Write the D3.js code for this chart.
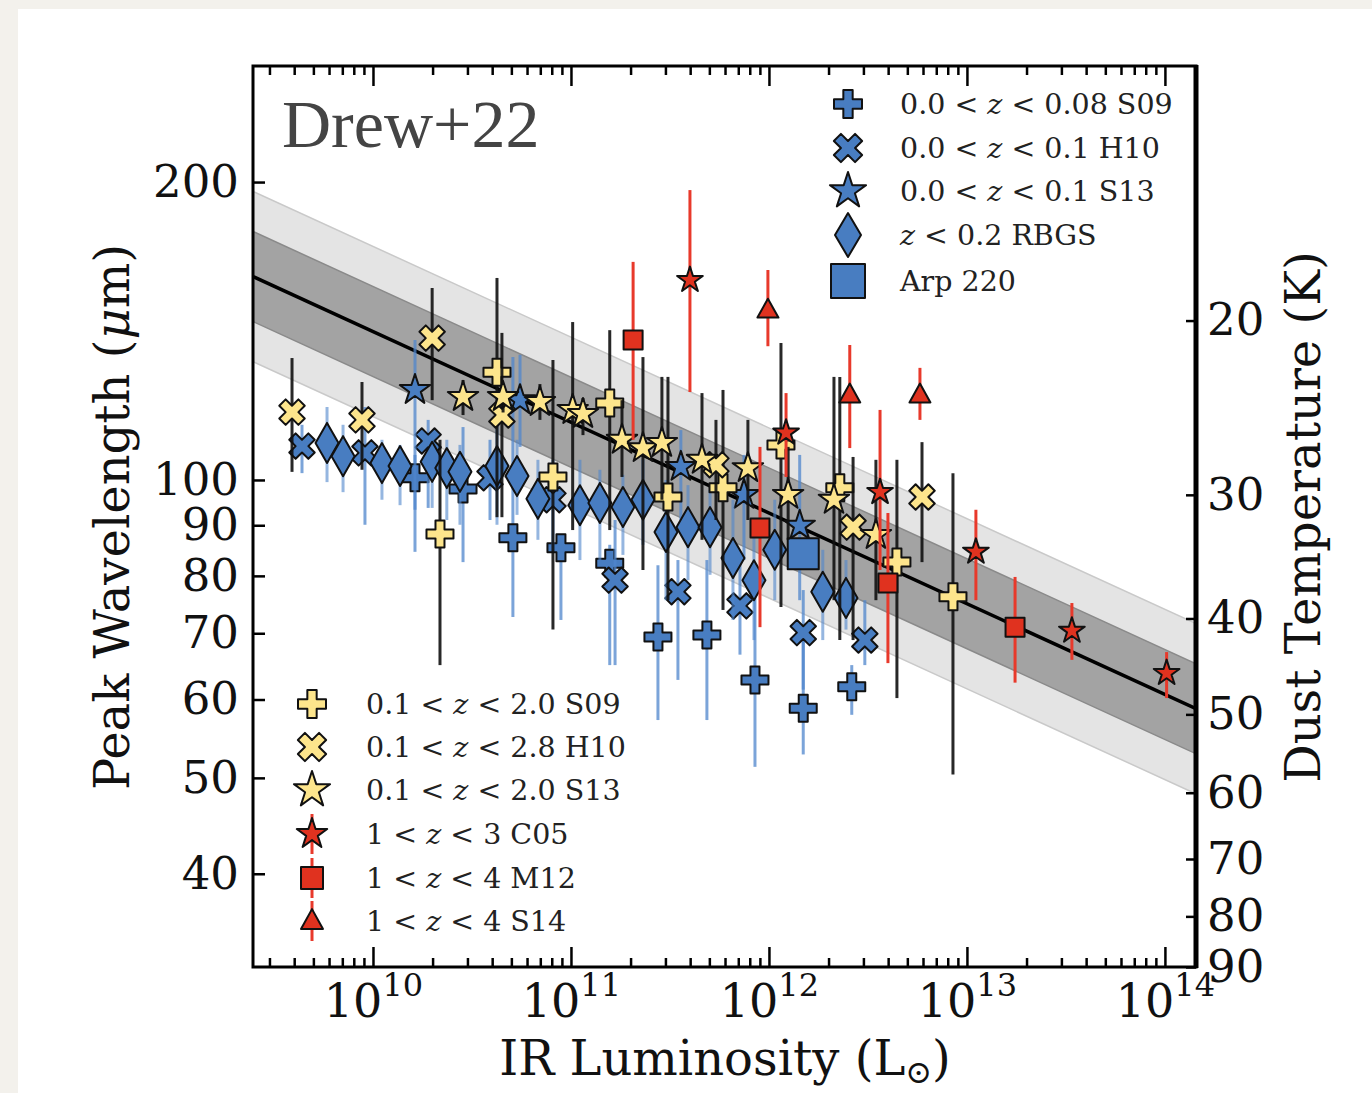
<!DOCTYPE html>
<html><head><meta charset="utf-8">
<script src="https://cdn.jsdelivr.net/npm/d3@7"></script>
<style>html,body{margin:0;padding:0;background:#f3f1ec;} svg{display:block}</style>
</head><body>
<svg id="chart" width="1372" height="1093"></svg>
<script>
// ---------------- DATA ----------------
// each point: [L_IR (Lsun), peak wavelength (um), lower bound (um), upper bound (um)]
const blueS09 = [
 [1.63e10,100.5,93.3,106.0],[2.85e10,97.9,82.6,113.1],[5.09e10,87.4,72.7,133.1],
 [8.90e10,85.4,72.2,87.6],[1.57e11,82.4,65.0,86.0],[2.75e11,69.4,57.2,82.0],
 [4.86e11,69.7,57.2,83.0],[8.50e11,62.8,51.3,78.3],[1.49e12,58.8,52.8,70.6],
 [2.62e12,61.8,57.9,65.0]
];
const blueH10 = [
 [4.38e9,108.2,101.6,113.7],[9.11e9,106.5,90.1,118.5],[1.90e10,109.5,93.7,115.0],
 [3.90e10,100.5,91.1,109.8],[8.11e10,95.5,86.0,104.8],[1.67e11,79.2,65.0,91.1],
 [3.47e11,77.1,62.8,83.0],[7.14e11,74.6,66.6,84.0],[1.49e12,70.1,61.4,77.4],
 [3.05e12,68.9,65.0,75.6]
];
const blueS13 = [
 [1.63e10,123.3,84.6,138.5],[5.53e10,120.4,108.0,133.8],[3.59e11,103.1,91.1,112.3],
 [7.48e11,96.6,83.0,106.0],[1.43e12,89.9,75.6,106.0]
];
const blueRBGS = [
 [5.86e9,109.0,99.5,118.5],[7.06e9,105.7,97.2,113.7],[1.11e10,104.0,95.5,109.8],
 [1.37e10,103.3,94.3,108.5],[1.99e10,104.3,93.7,108.5],[2.36e10,102.8,91.1,109.8],
 [2.75e10,101.9,90.1,108.5],[4.23e10,103.3,90.1,115.0],[5.34e10,100.9,92.2,109.8],
 [6.81e10,95.7,87.0,104.8],[1.11e11,94.3,83.0,104.8],[1.40e11,94.8,83.0,102.4],
 [1.83e11,93.9,84.0,101.2],[2.31e11,95.5,86.0,104.8],[3.02e11,88.6,75.6,100.0],
 [3.90e11,89.6,79.2,98.8],[5.04e11,89.6,80.2,97.7],[6.58e11,83.4,72.2,95.5],
 [8.40e11,79.2,68.9,91.1],[1.07e12,85.0,75.6,95.5],[1.87e12,77.1,68.9,85.0],
 [2.45e12,76.0,70.6,83.0]
];
const arp220 = [[1.49e12,84.2,84.2,84.2]];
const yellowS09 = [
 [2.18e10,88.2,65.0,109.8],[4.23e10,128.5,91.7,160.0],[8.11e10,100.7,70.6,132.2],
 [1.57e11,119.6,89.0,141.7],[3.09e11,96.1,75.6,127.1],[5.86e11,98.2,73.9,123.3],
 [1.15e12,108.5,74.4,137.5],[2.28e12,98.2,68.9,127.1],[4.43e12,82.6,60.2,104.8],
 [8.50e12,76.2,50.4,101.6]
];
const yellowH10 = [
 [3.90e9,117.1,101.9,132.8],[8.80e9,115.0,102.4,125.6],[1.99e10,139.1,120.4,156.3],
 [4.48e10,116.3,91.7,140.8],[5.40e11,103.6,91.1,115.0],[2.66e12,89.6,68.9,105.5],
 [5.93e12,96.1,82.6,109.2]
];
const yellowS13 = [
 [2.85e10,121.3,116.3,126.2],[4.54e10,121.3,117.0,124.0],[6.97e10,119.9,115.0,125.0],
 [1.02e11,117.7,89.0,144.4],[1.15e11,116.6,111.0,121.0],[1.81e11,109.8,100.7,120.4],
 [2.31e11,107.7,81.1,133.1],[2.88e11,109.0,95.5,127.1],[4.59e11,104.8,87.0,122.4],
 [7.83e11,102.8,91.1,115.0],[1.25e12,96.6,87.0,108.0],[2.13e12,95.5,75.6,127.1],
 [3.47e12,88.0,75.6,104.8]
];
const redC05 = [
 [3.99e11,159.2,122.7,196.3],[1.22e12,111.6,100.7,122.4],[3.64e12,97.2,81.1,117.7],
 [1.11e13,84.6,75.6,93.3],[3.39e13,70.4,65.8,75.1],[1.02e14,63.8,60.2,67.0]
];
const redM12 = [
 [2.06e11,138.5,109.8,166.1],[9.01e11,89.4,71.0,108.0],[3.99e12,78.7,65.3,92.6],
 [1.75e13,71.0,62.4,79.8]
];
const redS14 = [
 [9.88e11,148.5,136.5,163.0],[2.56e12,121.9,107.7,136.9],[5.79e12,121.9,115.0,129.8]
];
// best-fit relation: lambda = fitNorm * (L / 1e12)^fitSlope, bands in dex
const fitNorm = 92.6, fitSlope = -0.0917, band1 = 0.0455, band2 = 0.086;
const xMajorTicks = [1e10, 1e11, 1e12, 1e13, 1e14];
const yTicks = [40, 50, 60, 70, 80, 90, 100, 200];
const tTicks = [20, 30, 40, 50, 60, 70, 80, 90];
const wienB = 2898; // um K

// ---------------- LAYOUT ----------------
const W = 1372, H = 1093;
const pL = 253, pR = 1196, pT = 66, pB = 967;
const svg = d3.select("#chart");
svg.append("rect").attr("x",18).attr("y",9).attr("width",W-18).attr("height",H-9).attr("fill","#ffffff");

const x = d3.scaleLog().domain([Math.pow(10,9.394), Math.pow(10,14.157)]).range([pL, pR]);
const y = d3.scaleLog().domain([32.2, 262]).range([pB, pT]);
const yT = d3.scaleLog().domain([wienB/32.2, wienB/262]).range([pB, pT]);

const defs = svg.append("defs");
defs.append("clipPath").attr("id","clip").append("rect")
  .attr("x",pL).attr("y",pT).attr("width",pR-pL).attr("height",pB-pT);

const plot = svg.append("g").attr("clip-path","url(#clip)");
const fit = L => fitNorm * Math.pow(L/1e12, fitSlope);
const Ls = x.domain();
const area = (w) => d3.area().x(d=>x(d)).y0(d=>y(fit(d)*Math.pow(10,-w))).y1(d=>y(fit(d)*Math.pow(10,w)));
plot.append("path").datum(Ls).attr("d", area(band2)).attr("fill","#e4e4e4").attr("stroke","#c9c9c9").attr("stroke-width",1.5);
plot.append("path").datum(Ls).attr("d", area(band1)).attr("fill","#a3a3a3").attr("stroke","#8a8a8a").attr("stroke-width",1.5);
plot.append("path").datum(Ls).attr("d", d3.line().x(d=>x(d)).y(d=>y(fit(d)))).attr("fill","none").attr("stroke","#000").attr("stroke-width",3.5);

// ---------------- MARKERS ----------------
function plusPath(s){const a=s/2,t=s/6;return `M${-t},${-a}H${t}V${-t}H${a}V${t}H${t}V${a}H${-t}V${t}H${-a}V${-t}H${-t}Z`;}
function starPath(s){const R=s/2,r=R*0.382;let p="";for(let i=0;i<10;i++){const rr=i%2?r:R;const ang=-Math.PI/2+i*Math.PI/5;p+=(i?"L":"M")+(rr*Math.cos(ang)).toFixed(2)+","+(rr*Math.sin(ang)).toFixed(2);}return p+"Z";}
function diamondPath(w,h){return `M0,${-h/2}L${w/2},0L0,${h/2}L${-w/2},0Z`;}
function squarePath(s){return `M${-s/2},${-s/2}H${s/2}V${s/2}H${-s/2}Z`;}
function triPath(s){const h=s*0.9;return `M0,${-h*0.6}L${s/2},${h*0.4}L${-s/2},${h*0.4}Z`;}

const BLUE="#487dc1", YEL="#fde58c", RED="#e0321f";
const series = [
 {data:blueS09, path:plusPath(27), rot:0, fill:BLUE, bar:"#4f86cc", barOp:0.75, label:["0.0 < ","z"," < 0.08 S09"], leg:1, lpath:plusPath(28)},
 {data:blueH10, path:plusPath(27), rot:45, fill:BLUE, bar:"#4f86cc", barOp:0.75, label:["0.0 < ","z"," < 0.1 H10"], leg:1, lpath:plusPath(30), lrot:45},
 {data:blueS13, path:starPath(32), rot:0, fill:BLUE, bar:"#4f86cc", barOp:0.75, label:["0.0 < ","z"," < 0.1 S13"], leg:1, lpath:starPath(38)},
 {data:blueRBGS, path:diamondPath(23,40), rot:0, fill:BLUE, bar:"#4f86cc", barOp:0.6, label:["","z"," < 0.2 RBGS"], leg:1, lpath:diamondPath(26,44)},
 {data:arp220, path:squarePath(31), rot:0, fill:BLUE, bar:"#4f86cc", barOp:0, label:["Arp 220","",""], leg:1, lpath:squarePath(34)},
 {data:yellowS09, path:plusPath(27), rot:0, fill:YEL, bar:"#111", barOp:0.9, label:["0.1 < ","z"," < 2.0 S09"], leg:2, lpath:plusPath(28)},
 {data:yellowH10, path:plusPath(27), rot:45, fill:YEL, bar:"#111", barOp:0.9, label:["0.1 < ","z"," < 2.8 H10"], leg:2, lpath:plusPath(30), lrot:45},
 {data:yellowS13, path:starPath(32), rot:0, fill:YEL, bar:"#111", barOp:0.9, label:["0.1 < ","z"," < 2.0 S13"], leg:2, lpath:starPath(38)},
 {data:redC05, path:starPath(27), rot:0, fill:RED, bar:"#e8392b", barOp:1, label:["1 < ","z"," < 3 C05"], leg:2, lpath:starPath(32), lbar:true},
 {data:redM12, path:squarePath(19), rot:0, fill:RED, bar:"#e8392b", barOp:1, label:["1 < ","z"," < 4 M12"], leg:2, lpath:squarePath(22), lbar:true},
 {data:redS14, path:triPath(21), rot:0, fill:RED, bar:"#e8392b", barOp:1, label:["1 < ","z"," < 4 S14"], leg:2, lpath:triPath(22), lbar:true}
];

const pts = svg.append("g").attr("clip-path","url(#clip)");
series.forEach(s=>{
  const g = pts.append("g");
  g.selectAll("line").data(s.data).join("line")
    .attr("x1",d=>x(d[0])).attr("x2",d=>x(d[0]))
    .attr("y1",d=>y(d[2])).attr("y2",d=>y(d[3]))
    .attr("stroke",s.bar).attr("stroke-width",3).attr("stroke-opacity",s.barOp);
  g.selectAll("path").data(s.data).join("path")
    .attr("d",s.path)
    .attr("transform",d=>`translate(${x(d[0])},${y(d[1])}) rotate(${s.rot})`)
    .attr("fill",s.fill).attr("stroke","#111").attr("stroke-width",2).attr("stroke-linejoin","round");
});

// ---------------- AXES ----------------
const FONT = "DejaVu Serif";
const TICKFS = 45, TITLEFS = 48;
function minorTicks(){const out=[];const [a,b]=x.domain();for(let e=9;e<=14;e++){for(let m=2;m<=9;m++){const v=m*Math.pow(10,e);if(v>=a&&v<=b)out.push(v);}}return out;}
function styleAxis(g){g.select(".domain").remove();g.selectAll(".tick line").attr("stroke","#000").attr("stroke-width",2.5);}

// bottom
const gb = svg.append("g").attr("transform",`translate(0,${pB})`);
gb.append("g").call(d3.axisBottom(x).tickValues(minorTicks()).tickSize(-9).tickFormat("")).call(styleAxis);
const gbM = gb.append("g").call(d3.axisBottom(x).tickValues(xMajorTicks).tickSize(-20).tickFormat("")).call(styleAxis);
gbM.selectAll(".tick text").remove();
gbM.selectAll(".tick").append("text")
  .attr("y",50).attr("text-anchor","middle").attr("fill","#111")
  .attr("font-family",FONT).attr("font-size",46)
  .each(function(d){const t=d3.select(this);t.append("tspan").text("10");
    t.append("tspan").attr("font-size",32).attr("dy",-21).text(Math.round(Math.log10(d)));});
// top
const gt = svg.append("g").attr("transform",`translate(0,${pT})`);
gt.append("g").call(d3.axisTop(x).tickValues(minorTicks()).tickSize(-9).tickFormat("")).call(styleAxis);
gt.append("g").call(d3.axisTop(x).tickValues(xMajorTicks).tickSize(-20).tickFormat("")).call(styleAxis);
// left
const gl = svg.append("g").attr("transform",`translate(${pL},0)`)
  .call(d3.axisLeft(y).tickValues(yTicks).tickSize(-12).tickPadding(14).tickFormat(d3.format("d"))).call(styleAxis);
gl.selectAll(".tick text").attr("font-family",FONT).attr("font-size",TICKFS).attr("fill","#111");
// right (temperature)
const gr = svg.append("g").attr("transform",`translate(${pR},0)`)
  .call(d3.axisRight(yT).tickValues(tTicks).tickSize(-10).tickPadding(11).tickFormat(d3.format("d"))).call(styleAxis);
gr.selectAll(".tick text").attr("font-family",FONT).attr("font-size",TICKFS).attr("fill","#111");

// frame
svg.append("rect").attr("x",pL).attr("y",pT).attr("width",pR-pL).attr("height",pB-pT)
  .attr("fill","none").attr("stroke","#000").attr("stroke-width",3);
svg.append("line").attr("x1",pR).attr("x2",pR).attr("y1",pT-1).attr("y2",pB+1).attr("stroke","#000").attr("stroke-width",5);

// titles
svg.append("text").attr("x",725).attr("y",1075).attr("text-anchor","middle")
  .attr("font-family",FONT).attr("font-size",TITLEFS).attr("fill","#111")
  .call(t=>{t.append("tspan").text("IR Luminosity (L");t.append("tspan").attr("font-size",32).attr("dy",8).text("⊙");t.append("tspan").attr("dy",-8).text(")");});
svg.append("text").attr("transform","translate(129,517) rotate(-90)").attr("text-anchor","middle")
  .attr("font-family",FONT).attr("font-size",TITLEFS).attr("fill","#111")
  .call(t=>{t.append("tspan").text("Peak Wavelength (");t.append("tspan").attr("font-style","italic").text("μ");t.append("tspan").text("m)");});
svg.append("text").attr("transform","translate(1320,517) rotate(-90)").attr("text-anchor","middle")
  .attr("font-family",FONT).attr("font-size",TITLEFS).attr("fill","#111").text("Dust Temperature (K)");
svg.append("text").attr("x",282).attr("y",147).attr("font-family","Liberation Serif").attr("font-size",68)
  .attr("fill","#444").text("Drew+22");

// ---------------- LEGENDS ----------------
const leg1 = series.filter(s=>s.leg===1), leg2 = series.filter(s=>s.leg===2);
const leg1Y = [104,148,191,235,281], leg2Y = [704,747,790,834,878,921];
function drawLegend(items, ys, mx, tx){
  items.forEach((s,i)=>{
    const g = svg.append("g").attr("transform",`translate(${mx},${ys[i]})`);
    if(s.lbar) g.append("line").attr("y1",-20).attr("y2",20).attr("stroke",s.bar).attr("stroke-width",3);
    g.append("path").attr("d",s.lpath).attr("transform",`rotate(${s.lrot||0})`)
      .attr("fill",s.fill).attr("stroke","#111").attr("stroke-width",2).attr("stroke-linejoin","round");
    const t = svg.append("text").attr("x",tx).attr("y",ys[i]).attr("dy","0.35em")
      .attr("font-family",FONT).attr("font-size",28.5).attr("fill","#222");
    t.append("tspan").text(s.label[0]);
    if(s.label[1]) t.append("tspan").attr("font-style","italic").text(s.label[1]);
    if(s.label[2]) t.append("tspan").text(s.label[2]);
  });
}
drawLegend(leg1, leg1Y, 848, 900);
drawLegend(leg2, leg2Y, 312, 366);
</script>
</body></html>
